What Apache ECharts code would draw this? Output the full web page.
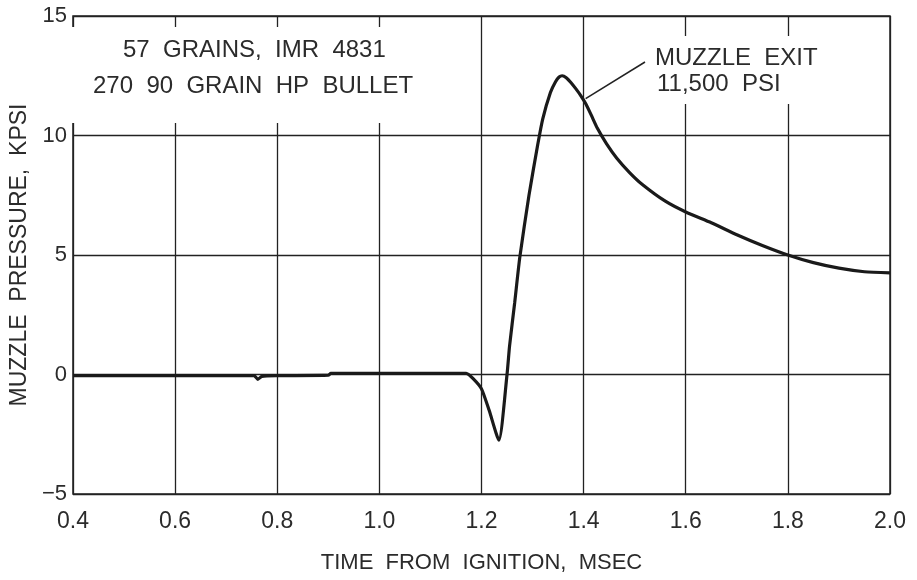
<!DOCTYPE html>
<html>
<head>
<meta charset="utf-8">
<script src="https://cdn.jsdelivr.net/npm/echarts@6/dist/echarts.min.js"></script>
<style>html,body{margin:0;padding:0;background:#fff}#c{width:917px;height:580px}</style>
</head>
<body>
<div id="c"></div>
<script>
// Time from ignition (ms)
const timeMs = [0.40,0.50,0.60,0.70,0.755,0.762,0.770,0.80,0.90,0.905,1.00,1.10,1.17,1.185,1.20,1.215,1.234,1.25,1.255,1.265,1.275,1.293,1.31,1.32,1.335,1.345,1.352,1.358,1.366,1.375,1.385,1.395,1.405,1.415,1.427,1.445,1.465,1.49,1.515,1.56,1.60,1.65,1.70,1.75,1.80,1.85,1.90,1.95,2.00];
// Muzzle pressure (kpsi)
const pressureKpsi = [-0.05,-0.05,-0.05,-0.05,-0.05,-0.2,-0.08,-0.05,-0.03,0.05,0.05,0.05,0.05,-0.2,-0.6,-1.5,-2.75,0.0,1.2,3.0,4.9,7.5,9.6,10.7,11.8,12.25,12.45,12.5,12.42,12.22,11.95,11.65,11.3,10.85,10.3,9.65,9.05,8.45,7.95,7.25,6.8,6.35,5.85,5.4,5.0,4.68,4.45,4.3,4.25];
const xTicks = [0.4,0.6,0.8,1.0,1.2,1.4,1.6,1.8,2.0];
const yTicks = [-5,0,5,10,15];
const infoLines = ['57  GRAINS,  IMR  4831','270  90  GRAIN  HP  BULLET'];
const exitLabel = ['MUZZLE  EXIT','11,500  PSI'];
const exitPoint = [1.40, 11.5];

const FONT = "'Liberation Sans', Arial, sans-serif";
const TXT = '#2b2b2b';
const chart = echarts.init(document.getElementById('c'));
const data = timeMs.map((t,i)=>[t, pressureKpsi[i]]);

chart.setOption({
  backgroundColor:'#fff',
  animation:false,
  grid:{left:66,right:27,top:16,bottom:86,show:true,borderColor:'#222',borderWidth:1.5,backgroundColor:'transparent'},
  xAxis:{type:'value',min:0.4,max:2.0,interval:0.2,
    name:'TIME  FROM  IGNITION,  MSEC',nameLocation:'middle',nameGap:58,
    nameTextStyle:{fontFamily:FONT,fontSize:22,color:TXT},
    axisLine:{show:false},axisTick:{show:false},
    axisLabel:{fontFamily:FONT,fontSize:23,color:TXT,margin:16,formatter:v=>v.toFixed(1)},
    splitLine:{show:true,lineStyle:{color:'#222',width:1.3}}},
  yAxis:{type:'value',min:-5,max:15,interval:5,
    name:'MUZZLE  PRESSURE,  KPSI',nameLocation:'middle',nameGap:38,
    nameTextStyle:{fontFamily:FONT,fontSize:23,color:TXT},
    axisLine:{show:false},axisTick:{show:false},
    axisLabel:{fontFamily:FONT,fontSize:22,color:TXT,margin:6,formatter:v=>v<0?'\u2212'+Math.abs(v):String(v)},
    splitLine:{show:true,lineStyle:{color:'#222',width:1.3}}},
  series:[{type:'line',data:data,showSymbol:false,smooth:0.2,z:5,
    lineStyle:{color:'#1a1a1a',width:3.2}}]
});

const pExit = chart.convertToPixel({gridIndex:0}, exitPoint);
const g = [];
// blank out grid in the text bands (as in the original plot)
g.push({type:'rect',z:1,shape:{x:68,y:27,width:402,height:96},style:{fill:'#fff'}});
g.push({type:'rect',z:1,shape:{x:592,y:36,width:294,height:68},style:{fill:'#fff'}});
g.push({type:'text',z:10,x:123,y:50,style:{text:infoLines[0],fontFamily:FONT,fontSize:24,fill:TXT,textVerticalAlign:'middle',verticalAlign:'middle'}});
g.push({type:'text',z:10,x:93,y:86,style:{text:infoLines[1],fontFamily:FONT,fontSize:24,fill:TXT,textVerticalAlign:'middle',verticalAlign:'middle'}});
g.push({type:'text',z:10,x:655,y:58,style:{text:exitLabel[0],fontFamily:FONT,fontSize:24,fill:TXT,textVerticalAlign:'middle',verticalAlign:'middle'}});
g.push({type:'text',z:10,x:657,y:84,style:{text:exitLabel[1],fontFamily:FONT,fontSize:24,fill:TXT,textVerticalAlign:'middle',verticalAlign:'middle'}});
g.push({type:'line',z:10,shape:{x1:pExit[0]+2,y1:pExit[1]-1,x2:645,y2:62},style:{stroke:'#222',lineWidth:1.5}});
chart.setOption({graphic:g});
</script>
</body>
</html>
